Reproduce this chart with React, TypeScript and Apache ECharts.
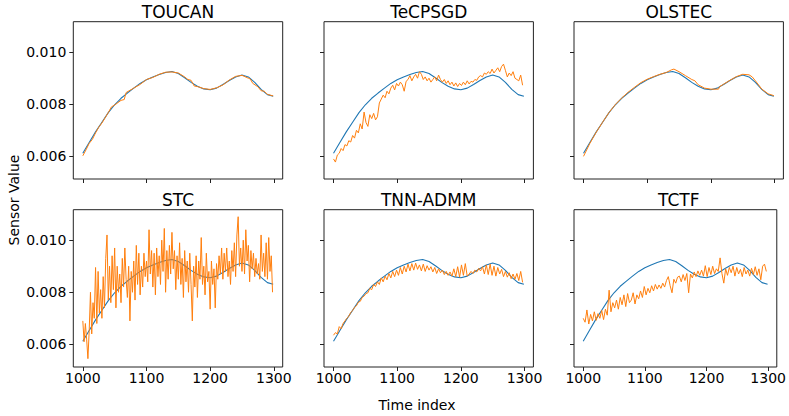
import React, { useEffect, useRef } from "react";
import * as echarts from "echarts";

// ---- Data (time index / sensor value) ----
const truthIdx = [1000, 1010, 1020, 1030, 1040, 1050, 1060, 1070, 1080, 1090, 1100, 1110, 1120, 1130, 1140, 1150, 1160, 1170, 1180, 1190, 1200, 1210, 1220, 1230, 1240, 1250, 1260, 1270, 1280, 1290, 1299];
const truthVal = [0.00612, 0.00653, 0.00694, 0.00731, 0.00768, 0.00798, 0.00823, 0.00843, 0.00862, 0.00880, 0.00894, 0.00905, 0.00914, 0.00922, 0.00926, 0.00918, 0.00902, 0.00884, 0.00869, 0.00859, 0.00856, 0.00862, 0.00876, 0.00891, 0.00905, 0.00912, 0.00905, 0.00884, 0.00857, 0.00837, 0.00831];

const toucanIdx = [1000, 1005, 1010, 1015, 1020, 1025, 1030, 1040, 1045, 1050, 1060, 1065, 1068, 1080, 1090, 1100, 1110, 1120, 1130, 1140, 1150, 1160, 1165, 1170, 1175, 1180, 1190, 1200, 1210, 1220, 1230, 1240, 1250, 1260, 1263, 1267, 1275, 1280, 1285, 1290, 1299];
const toucanVal = [0.00602, 0.00625, 0.00650, 0.00665, 0.00690, 0.00712, 0.00728, 0.00768, 0.00790, 0.00797, 0.00815, 0.00818, 0.00845, 0.00862, 0.00876, 0.00895, 0.00903, 0.00915, 0.00923, 0.00924, 0.00920, 0.00905, 0.00895, 0.00892, 0.00870, 0.00868, 0.00860, 0.00857, 0.00863, 0.00874, 0.00893, 0.00907, 0.00911, 0.00900, 0.00897, 0.00880, 0.00867, 0.00852, 0.00850, 0.00838, 0.00832];

const olstecIdx = [1000, 1010, 1020, 1030, 1040, 1050, 1060, 1070, 1080, 1090, 1100, 1110, 1120, 1130, 1138, 1142, 1150, 1160, 1170, 1175, 1180, 1190, 1200, 1212, 1214, 1220, 1230, 1240, 1250, 1260, 1265, 1270, 1280, 1290, 1299];
const olstecVal = [0.00600, 0.00650, 0.00693, 0.00731, 0.00768, 0.00799, 0.00824, 0.00846, 0.00865, 0.00883, 0.00896, 0.00906, 0.00915, 0.00922, 0.00932, 0.00935, 0.00925, 0.00910, 0.00895, 0.00890, 0.00875, 0.00862, 0.00858, 0.00858, 0.00868, 0.00877, 0.00892, 0.00906, 0.00915, 0.00913, 0.00905, 0.00890, 0.00858, 0.00840, 0.00833];

// noisy estimates, sampled every 3 time steps starting at 1000 (rows of 10 = 30 steps)
const tecpsgdVal = [
  0.00590, 0.00578, 0.00605, 0.00612, 0.00630, 0.00622, 0.00645, 0.00640, 0.00660, 0.00655,
  0.00680, 0.00670, 0.00700, 0.00690, 0.00725, 0.00705, 0.00770, 0.00730, 0.00715, 0.00760,
  0.00745, 0.00765, 0.00740, 0.00752, 0.00805, 0.00820, 0.00835, 0.00825, 0.00850, 0.00840,
  0.00862, 0.00873, 0.00855, 0.00880, 0.00870, 0.00885, 0.00875, 0.00850, 0.00888, 0.00895,
  0.00910, 0.00890, 0.00905, 0.00915, 0.00900, 0.00925, 0.00915, 0.00895, 0.00905, 0.00890,
  0.00900, 0.00885, 0.00895, 0.00905, 0.00890, 0.00912, 0.00895, 0.00885, 0.00895, 0.00880,
  0.00890, 0.00875, 0.00885, 0.00870, 0.00882, 0.00868, 0.00880, 0.00872, 0.00885, 0.00875,
  0.00890, 0.00878, 0.00888, 0.00885, 0.00895, 0.00892, 0.00905, 0.00910, 0.00905, 0.00920,
  0.00915, 0.00925, 0.00918, 0.00935, 0.00920, 0.00930, 0.00940, 0.00925, 0.00945, 0.00954,
  0.00930, 0.00905, 0.00920, 0.00910, 0.00925, 0.00900, 0.00895, 0.00890, 0.00912, 0.00873,
];
const tnnVal = [
  0.00635, 0.00645, 0.00640, 0.00668, 0.00660, 0.00680, 0.00690, 0.00700, 0.00708, 0.00722,
  0.00730, 0.00742, 0.00748, 0.00762, 0.00765, 0.00780, 0.00785, 0.00795, 0.00798, 0.00815,
  0.00810, 0.00830, 0.00822, 0.00840, 0.00830, 0.00855, 0.00840, 0.00862, 0.00848, 0.00872,
  0.00855, 0.00880, 0.00860, 0.00885, 0.00865, 0.00895, 0.00870, 0.00900, 0.00878, 0.00908,
  0.00882, 0.00910, 0.00885, 0.00912, 0.00888, 0.00905, 0.00882, 0.00908, 0.00880, 0.00902,
  0.00885, 0.00898, 0.00878, 0.00895, 0.00872, 0.00890, 0.00875, 0.00885, 0.00868, 0.00880,
  0.00865, 0.00878, 0.00862, 0.00890, 0.00860, 0.00898, 0.00858, 0.00905, 0.00865, 0.00910,
  0.00862, 0.00870, 0.00880, 0.00872, 0.00885, 0.00878, 0.00892, 0.00882, 0.00898, 0.00870,
  0.00905, 0.00868, 0.00908, 0.00865, 0.00900, 0.00862, 0.00895, 0.00870, 0.00888, 0.00860,
  0.00880, 0.00858, 0.00875, 0.00852, 0.00870, 0.00850, 0.00872, 0.00845, 0.00880, 0.00838,
];
const tctfVal = [
  0.00700, 0.00685, 0.00732, 0.00678, 0.00715, 0.00690, 0.00725, 0.00692, 0.00718, 0.00700,
  0.00730, 0.00695, 0.00735, 0.00712, 0.00808, 0.00725, 0.00760, 0.00740, 0.00770, 0.00735,
  0.00780, 0.00752, 0.00790, 0.00745, 0.00795, 0.00760, 0.00770, 0.00798, 0.00755, 0.00790,
  0.00775, 0.00805, 0.00780, 0.00822, 0.00790, 0.00815, 0.00798, 0.00825, 0.00805, 0.00830,
  0.00812, 0.00828, 0.00815, 0.00835, 0.00820, 0.00845, 0.00860, 0.00825, 0.00798, 0.00850,
  0.00835, 0.00858, 0.00862, 0.00840, 0.00868, 0.00845, 0.00872, 0.00798, 0.00870, 0.00855,
  0.00878, 0.00860, 0.00882, 0.00865, 0.00885, 0.00862, 0.00902, 0.00860, 0.00895, 0.00868,
  0.00900, 0.00872, 0.00890, 0.00880, 0.00932, 0.00872, 0.00835, 0.00890, 0.00865, 0.00895,
  0.00875, 0.00900, 0.00862, 0.00895, 0.00870, 0.00888, 0.00860, 0.00895, 0.00870, 0.00885,
  0.00862, 0.00892, 0.00868, 0.00898, 0.00865, 0.00890, 0.00848, 0.00900, 0.00908, 0.00880,
];
// STC estimate sampled every 2 time steps starting at 1000 (rows of 10 = 20 steps)
const stcVal = [
  0.00690, 0.00610, 0.00680, 0.00620, 0.00545, 0.00650, 0.00800, 0.00640, 0.00760, 0.00700,
  0.00895, 0.00680, 0.00880, 0.00720, 0.00810, 0.00700, 0.00860, 0.00740, 0.00930, 0.01020,
  0.00770, 0.00900, 0.00760, 0.00940, 0.00810, 0.00970, 0.00740, 0.00900, 0.00800, 0.00870,
  0.00760, 0.00930, 0.00820, 0.00970, 0.00850, 0.00780, 0.00900, 0.00690, 0.00880, 0.00800,
  0.00920, 0.00770, 0.00980, 0.00830, 0.00950, 0.00790, 0.00900, 0.00820, 0.00950, 0.00860,
  0.00920, 0.00840, 0.01040, 0.00870, 0.00960, 0.00820, 0.00950, 0.00790, 0.00970, 0.00860,
  0.00940, 0.00830, 0.01000, 0.00880, 0.01045, 0.00800, 0.00960, 0.00850, 0.00980, 0.00870,
  0.01030, 0.00890, 0.00960, 0.00810, 0.00940, 0.00850, 0.00990, 0.00830, 0.00930, 0.00780,
  0.00960, 0.00840, 0.00920, 0.00800, 0.00950, 0.00830, 0.00690, 0.00900, 0.00820, 0.00940,
  0.00780, 0.00920, 0.00850, 0.01010, 0.00830, 0.00900, 0.00790, 0.00950, 0.00840, 0.00880,
  0.00735, 0.00920, 0.00830, 0.00890, 0.00740, 0.00910, 0.00850, 0.00940, 0.00870, 0.00970,
  0.00850, 0.00950, 0.00880, 0.00970, 0.00860, 0.00920, 0.00830, 0.00960, 0.00880, 0.00990,
  0.00860, 0.01020, 0.01090, 0.00900, 0.00970, 0.00880, 0.01000, 0.00870, 0.01040, 0.00920,
  0.00980, 0.00840, 0.00960, 0.00890, 0.00950, 0.00860, 0.00930, 0.00870, 0.00910, 0.00850,
  0.01020, 0.00880, 0.00950, 0.00860, 0.00990, 0.00850, 0.01010, 0.00880, 0.00940, 0.00800,
];

const panelTitles = ["TOUCAN", "TeCPSGD", "OLSTEC", "STC", "TNN-ADMM", "TCTF"];
const xTicks = [1000, 1100, 1200, 1300];
const yTicks = [0.006, 0.008, 0.01];

const pairs = (xs: number[], ys: number[]) => xs.map((x, i) => [x, ys[i]]);
const sampled = (start: number, step: number, ys: number[]) => ys.map((y, i) => [start + i * step, y]);

const estimates = [
  pairs(toucanIdx, toucanVal),
  sampled(1000, 3, tecpsgdVal),
  pairs(olstecIdx, olstecVal),
  sampled(1000, 2, stcVal),
  sampled(1000, 3, tnnVal),
  sampled(1000, 3, tctfVal),
];

const colLeft = [73.3, 324, 574];
const rowTop = [21.7, 209.7];
const GW = 209.4;
const GH = 157.3;
const FONT = "DejaVu Sans";

export default function App() {
  const ref = useRef<HTMLDivElement>(null);
  useEffect(() => {
    const chart = echarts.init(ref.current!, null, { renderer: "svg" });
    const grids: any[] = [];
    const xAxes: any[] = [];
    const yAxes: any[] = [];
    const series: any[] = [];
    const graphics: any[] = [];
    const truth = pairs(truthIdx, truthVal);
    for (let k = 0; k < 6; k++) {
      const r = Math.floor(k / 3);
      const c = k % 3;
      grids.push({
        left: colLeft[c], top: rowTop[r], width: GW, height: GH,
        show: true, borderColor: "#222", borderWidth: 1, backgroundColor: "transparent",
        containLabel: false,
      });
      xAxes.push({
        type: "value", gridIndex: k, min: 985.05, max: 1313.95,
        axisLine: { show: false },
        axisTick: { show: true, customValues: xTicks, length: 4, lineStyle: { color: "#222", width: 1 } },
        axisLabel: {
          show: r === 1, customValues: xTicks, margin: 4,
          color: "#000", fontSize: 14, fontFamily: FONT, fontWeight: "normal",
          formatter: (v: number) => String(Math.round(v)),
        },
        splitLine: { show: false },
      });
      yAxes.push({
        type: "value", gridIndex: k, min: 0.00513, max: 0.01117,
        axisLine: { show: false },
        axisTick: { show: true, customValues: yTicks, length: 4, lineStyle: { color: "#222", width: 1 } },
        axisLabel: {
          show: c === 0, customValues: yTicks, margin: 7,
          color: "#000", fontSize: 14, fontFamily: FONT, fontWeight: "normal",
          formatter: (v: number) => v.toFixed(3),
        },
        splitLine: { show: false },
      });
      series.push({
        type: "line", xAxisIndex: k, yAxisIndex: k, data: truth,
        showSymbol: false, symbol: "none", silent: true, z: 2,
        lineStyle: { color: "#1f77b4", width: 1.1 },
      });
      series.push({
        type: "line", xAxisIndex: k, yAxisIndex: k, data: estimates[k],
        showSymbol: false, symbol: "none", silent: true, z: 3,
        lineStyle: { color: "#ff7f0e", width: 1 },
      });
      graphics.push({
        type: "text", x: colLeft[c] + GW / 2, y: rowTop[r] - 10,
        style: {
          text: panelTitles[k], fill: "#000", fontSize: 17, fontFamily: FONT, fontWeight: "normal",
          align: "center", verticalAlign: "middle",
        },
      });
    }
    graphics.push({
      type: "text", x: 14, y: 200, rotation: Math.PI / 2,
      style: { text: "Sensor Value", fill: "#000", fontSize: 14, fontFamily: FONT, fontWeight: "normal", align: "center", verticalAlign: "middle" },
    });
    graphics.push({
      type: "text", x: 417, y: 405,
      style: { text: "Time index", fill: "#000", fontSize: 14, fontFamily: FONT, fontWeight: "normal", align: "center", verticalAlign: "middle" },
    });
    chart.setOption({
      animation: false,
      backgroundColor: "#fff",
      grid: grids,
      xAxis: xAxes,
      yAxis: yAxes,
      series,
      graphic: graphics,
    });
    return () => chart.dispose();
  }, []);
  return (
    <div
      ref={ref}
      style={{ position: "fixed", left: 0, top: 0, width: 789, height: 416, background: "#fff" }}
    />
  );
}
